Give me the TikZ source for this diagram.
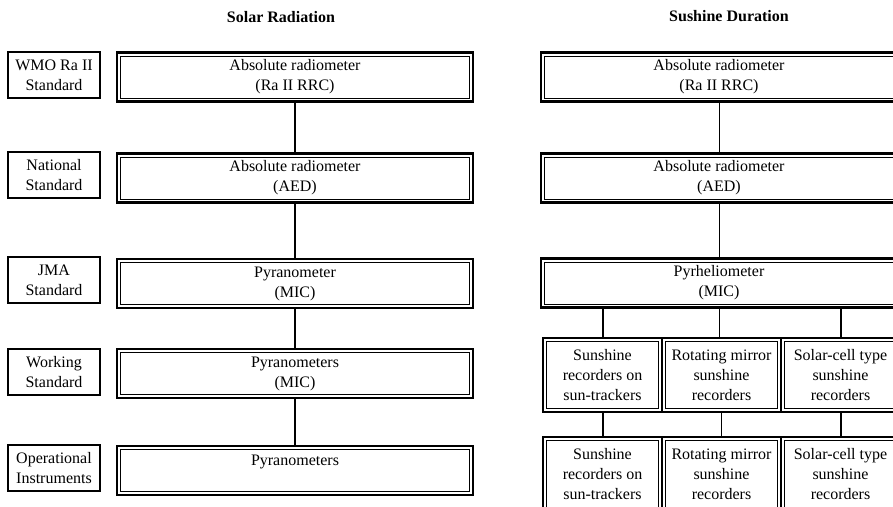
\documentclass[tikz,border=0pt]{standalone}
\usepackage{fontspec}
\setmainfont{Liberation Serif}
\begin{document}
\begin{tikzpicture}
        [x=1pt, y=-1pt, every node/.style={font=\fontsize{16}{20}\selectfont, align=center, inner sep=0pt},
        lab/.style={draw, line width=1.6pt, minimum width=92pt, minimum height=46pt},
        dbox/.style={draw, line width=2.8pt, minimum height=49pt,
          path picture={\draw[line width=0.8pt] ([shift={(3.4pt,-3.4pt)}]path picture bounding box.north west) rectangle ([shift={(-3.4pt,3.4pt)}]path picture bounding box.south east);}},
        wide/.style={dbox, minimum width=356pt},
        part/.style={dbox, minimum width=119pt, minimum height=74pt},
        heading/.style={font=\fontsize{16}{20}\selectfont\bfseries},
        bold link/.style={line width=2pt},
        thin link/.style={line width=0.7pt}]

        \useasboundingbox (0,0) rectangle (893,506);

        \node[heading] (t1) at (281,17) {Solar Radiation};
        \node[heading] (t2) at (729,16) {Sushine Duration};

        % levels
        \node[lab] (l1) at (54,75) {WMO Ra~II\\Standard};
        \node[lab] (l2) at (54,175) {National\\Standard};
        \node[lab] (l3) at (54,280) {JMA\\Standard};
        \node[lab] (l4) at (54,372) {Working\\Standard};
        \node[lab] (l5) at (54,468) {Operational\\Instruments};

        % solar radiation
        \node[wide] (s1) at (295,77) {Absolute radiometer\\(Ra~II RRC)};
        \node[wide] (s2) at (295,178) {Absolute radiometer\\(AED)};
        \node[wide] (s3) at (295,283.5) {Pyranometer\\(MIC)};
        \node[wide] (s4) at (295,373.5) {Pyranometers\\(MIC)};
        \node[wide] (s5) at (295,470.5) {Pyranometers\\\mbox{}};

        % sunshine duration
        \node[wide] (d1) at (719,77) {Absolute radiometer\\(Ra~II RRC)};
        \node[wide] (d2) at (719,178) {Absolute radiometer\\(AED)};
        \node[wide] (d3) at (719,283) {Pyrheliometer\\(MIC)};
        \node[part] (w1) at (602.5,375) {Sunshine\\recorders on\\sun-trackers};
        \node[part] (w2) at (721.5,375) {Rotating mirror\\sunshine\\recorders};
        \node[part] (w3) at (840.5,375) {Solar-cell type\\sunshine\\recorders};
        \node[part] (o1) at (602.5,474) {Sunshine\\recorders on\\sun-trackers};
        \node[part] (o2) at (721.5,474) {Rotating mirror\\sunshine\\recorders};
        \node[part] (o3) at (840.5,474) {Solar-cell type\\sunshine\\recorders};

        \draw[bold link] (s1) -- (s2);
        \draw[bold link] (s2) -- (s3);
        \draw[bold link] (s3) -- (s4);
        \draw[bold link] (s4) -- (s5);

        \draw[thin link] (d1) -- (d2);
        \draw[thin link] (d2) -- (d3);
        \draw[bold link] (d3.south -| w1) -- (w1);
        \draw[thin link] (d3.south) -- (d3.south |- w2.north);
        \draw[bold link] (d3.south -| w3) -- (w3);
        \draw[bold link] (w1) -- (o1);
        \draw[thin link] (w2) -- (o2);
        \draw[bold link] (w3) -- (o3);
      \end{tikzpicture}
\end{document}
